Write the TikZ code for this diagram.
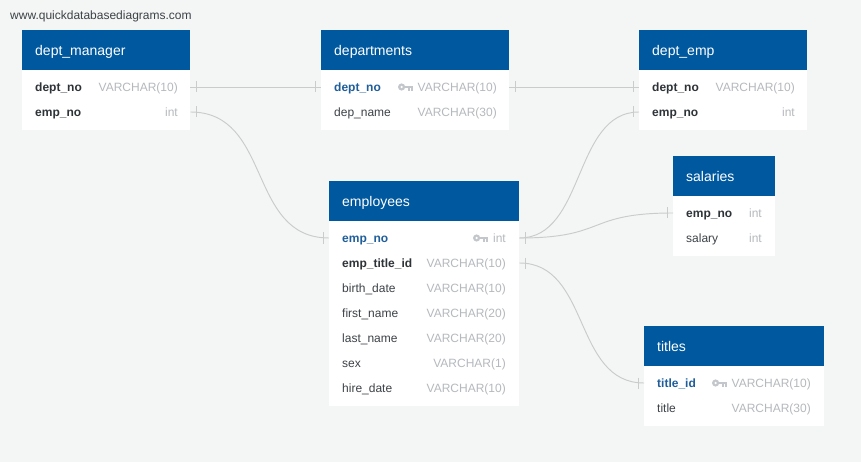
\documentclass[tikz,border=0pt]{standalone}
\usepackage{fontspec}
\setmainfont{Liberation Sans}
\definecolor{bgc}{HTML}{F4F5F5}
\definecolor{hdrblue}{HTML}{00589E}
\definecolor{pkblue}{HTML}{1F5E9A}
\definecolor{fkdark}{HTML}{2E3338}
\definecolor{plain}{HTML}{3D4247}
\definecolor{typegrey}{HTML}{B5B9BD}
\definecolor{linkgrey}{HTML}{CACCCC}
\definecolor{keygrey}{HTML}{C3C7CB}
\begin{document}
\begin{tikzpicture}[x=1pt,y=-1pt,
  hdr/.style={fill=hdrblue, draw=none, anchor=north west, inner sep=0, minimum height=40pt},
  tbody/.style={fill=white, draw=none, anchor=north west, inner sep=0},
  rowbox/.style={draw=none, anchor=west, inner sep=0, minimum height=25pt},
  title/.style={anchor=base west, inner sep=0, yshift=-0.8pt, text=white, font=\fontsize{14}{16}\selectfont},
  pk/.style={anchor=base west, inner sep=0, yshift=-0.5pt, text=pkblue, font=\fontsize{12}{14}\selectfont\bfseries},
  fk/.style={anchor=base west, inner sep=0, yshift=-0.5pt, text=fkdark, font=\fontsize{12}{14}\selectfont\bfseries},
  fld/.style={anchor=base west, inner sep=0, yshift=-0.5pt, text=plain, font=\fontsize{12}{14}\selectfont},
  ty/.style={anchor=base east, inner sep=0, yshift=-0.5pt, text=typegrey, font=\fontsize{12}{14}\selectfont},
  link/.style={draw=linkgrey, line width=0.95pt},
  pkkey/.pic={
    \fill[keygrey] (3.6,0) circle (3.6);
    \fill[white] (3.6,0) circle (1.3);
    \fill[keygrey] (6,-1.4) rectangle (15,1.4);
    \fill[keygrey] (9.8,1.4) rectangle (11.5,3.8);
    \fill[keygrey] (13.2,1.4) rectangle (15,3.8);
  }]
\useasboundingbox (0,0) rectangle (861,462);
\fill[bgc] (0,0) rectangle (861,462);

\node[anchor=base west, inner sep=0, text=plain, font=\fontsize{12}{14}\selectfont] (wm) at (10,19.5) {www.quickdatabasediagrams.com};

% ---- dept_manager
\node[hdr, minimum width=168pt] (dm) at (22,30) {};
\node[tbody, minimum width=168pt, minimum height=60pt] (dmb) at (22,70) {};
\node[title] (dmt) at (35,54.5) {dept\_manager};
\node[rowbox, minimum width=168pt] (dm-dept) at (22,87) {};
\node[rowbox, minimum width=168pt] (dm-emp) at (22,112) {};
\node[fk] (dm-dept-n) at (35,91) {dept\_no};
\node[ty] (dm-dept-t) at (178,91) {VARCHAR(10)};
\node[fk] (dm-emp-n) at (35,116) {emp\_no};
\node[ty] (dm-emp-t) at (178,116) {int};

% ---- departments
\node[hdr, minimum width=188pt] (dp) at (321,30) {};
\node[tbody, minimum width=188pt, minimum height=60pt] (dpb) at (321,70) {};
\node[title] (dpt) at (334,54.5) {departments};
\node[rowbox, minimum width=188pt] (dp-dept) at (321,87) {};
\node[rowbox, minimum width=188pt] (dp-name) at (321,112) {};
\node[pk] (dp-dept-n) at (334,91) {dept\_no};
\pic at (398,87) {pkkey};
\node[ty] (dp-dept-t) at (497,91) {VARCHAR(10)};
\node[fld] (dp-name-n) at (334,116) {dep\_name};
\node[ty] (dp-name-t) at (497,116) {VARCHAR(30)};

% ---- dept_emp
\node[hdr, minimum width=168pt] (de) at (639,30) {};
\node[tbody, minimum width=168pt, minimum height=60pt] (deb) at (639,70) {};
\node[title] (det) at (652,54.5) {dept\_emp};
\node[rowbox, minimum width=168pt] (de-dept) at (639,87) {};
\node[rowbox, minimum width=168pt] (de-emp) at (639,112) {};
\node[fk] (de-dept-n) at (652,91) {dept\_no};
\node[ty] (de-dept-t) at (795,91) {VARCHAR(10)};
\node[fk] (de-emp-n) at (652,116) {emp\_no};
\node[ty] (de-emp-t) at (795,116) {int};

% ---- employees
\node[hdr, minimum width=190pt] (em) at (329,181) {};
\node[tbody, minimum width=190pt, minimum height=185pt] (emb) at (329,221) {};
\node[title] (emt) at (342,205.5) {employees};
\node[rowbox, minimum width=190pt] (em-emp) at (329,238) {};
\node[rowbox, minimum width=190pt] (em-title) at (329,263) {};
\node[pk] (em-emp-n) at (342,242) {emp\_no};
\pic at (473,238) {pkkey};
\node[ty] (em-emp-t) at (506,242) {int};
\node[fk] (em-title-n) at (342,267) {emp\_title\_id};
\node[ty] (em-title-t) at (506,267) {VARCHAR(10)};
\node[fld] (em-birth-n) at (342,292) {birth\_date};
\node[ty] (em-birth-t) at (506,292) {VARCHAR(10)};
\node[fld] (em-first-n) at (342,317) {first\_name};
\node[ty] (em-first-t) at (506,317) {VARCHAR(20)};
\node[fld] (em-last-n) at (342,342) {last\_name};
\node[ty] (em-last-t) at (506,342) {VARCHAR(20)};
\node[fld] (em-sex-n) at (342,367) {sex};
\node[ty] (em-sex-t) at (506,367) {VARCHAR(1)};
\node[fld] (em-hire-n) at (342,392) {hire\_date};
\node[ty] (em-hire-t) at (506,392) {VARCHAR(10)};

% ---- salaries
\node[hdr, minimum width=102pt] (sa) at (673,156) {};
\node[tbody, minimum width=102pt, minimum height=60pt] (sab) at (673,196) {};
\node[title] (sat) at (686,180.5) {salaries};
\node[rowbox, minimum width=102pt] (sa-emp) at (673,213) {};
\node[fk] (sa-emp-n) at (686,217) {emp\_no};
\node[ty] (sa-emp-t) at (762,217) {int};
\node[fld] (sa-sal-n) at (686,242) {salary};
\node[ty] (sa-sal-t) at (762,242) {int};

% ---- titles
\node[hdr, minimum width=180pt] (ti) at (644,326) {};
\node[tbody, minimum width=180pt, minimum height=60pt] (tib) at (644,366) {};
\node[title] (tit) at (657,350.5) {titles};
\node[rowbox, minimum width=180pt] (ti-id) at (644,383) {};
\node[pk] (ti-id-n) at (657,387) {title\_id};
\pic at (712,383) {pkkey};
\node[ty] (ti-id-t) at (811,387) {VARCHAR(10)};
\node[fld] (ti-title-n) at (657,412) {title};
\node[ty] (ti-title-t) at (811,412) {VARCHAR(30)};

% ---- relationships
\draw[link] (dm-dept.east) -- (dp-dept.west);
\draw[link] (dp-dept.east) -- (de-dept.west);
\draw[link] (dm-emp.east) .. controls +(82,0) and +(-82,0) .. (em-emp.west);
\draw[link] (em-emp.east) .. controls +(66,0) and +(-66,0) .. (de-emp.west);
\draw[link] (em-emp.east) .. controls +(88,0) and +(-88,0) .. (sa-emp.west);
\draw[link] (em-title.east) .. controls +(71,0) and +(-71,0) .. (ti-id.west);

% one-side bars near each end
\draw[link] (dm-dept.east) ++(6,-5.5) -- ++(0,11);
\draw[link] (dp-dept.west) ++(-6,-5.5) -- ++(0,11);
\draw[link] (dp-dept.east) ++(6,-5.5) -- ++(0,11);
\draw[link] (de-dept.west) ++(-6,-5.5) -- ++(0,11);
\draw[link] (dm-emp.east) ++(6,-5.5) -- ++(0,11);
\draw[link] (em-emp.west) ++(-6,-5.5) -- ++(0,11);
\draw[link] (em-emp.east) ++(6,-5.5) -- ++(0,11);
\draw[link] (de-emp.west) ++(-6,-5.5) -- ++(0,11);
\draw[link] (sa-emp.west) ++(-6,-5.5) -- ++(0,11);
\draw[link] (em-title.east) ++(6,-5.5) -- ++(0,11);
\draw[link] (ti-id.west) ++(-6,-5.5) -- ++(0,11);
\end{tikzpicture}
\end{document}
